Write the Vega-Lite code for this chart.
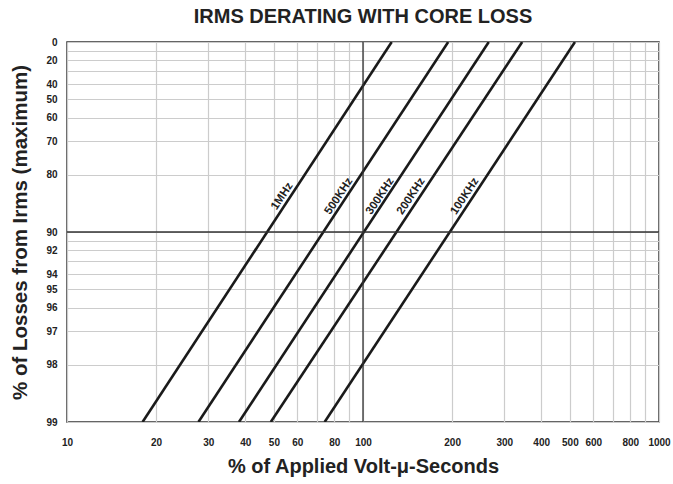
{
  "$schema": "https://vega.github.io/schema/vega-lite/v6.json",
  "width": 592,
  "height": 380,
  "autosize": "none",
  "padding": {"left": 67, "top": 42, "right": 14, "bottom": 62},
  "background": "white",
  "config": {
    "font": "Liberation Sans",
    "view": {"stroke": "#333", "strokeWidth": 1.5}
  },
  "title": {
    "text": "IRMS DERATING WITH CORE LOSS",
    "font": "Liberation Sans",
    "fontSize": 20,
    "fontWeight": "bold",
    "color": "#222",
    "anchor": "middle",
    "offset": 10
  },
  "datasets": {
    "curves": [
      {"f": "1MHz", "x": 18.0, "r": 1},
      {"f": "1MHz", "x": 125, "r": 100},
      {"f": "500KHz", "x": 27.8, "r": 1},
      {"f": "500KHz", "x": 194, "r": 100},
      {"f": "300KHz", "x": 38.1, "r": 1},
      {"f": "300KHz", "x": 266, "r": 100},
      {"f": "200KHz", "x": 48.8, "r": 1},
      {"f": "200KHz", "x": 345, "r": 100},
      {"f": "100KHz", "x": 74.2, "r": 1},
      {"f": "100KHz", "x": 520, "r": 100}
    ],
    "tags": [
      {"f": "1MHz", "x": 53.4, "r": 15.4},
      {"f": "500KHz", "x": 83.0, "r": 15.4},
      {"f": "300KHz", "x": 114.4, "r": 15.4},
      {"f": "200KHz", "x": 145.6, "r": 15.4},
      {"f": "100KHz", "x": 221.1, "r": 15.4}
    ],
    "refx": [{"x": 100}],
    "refy": [{"r": 10}]
  },
  "layer": [
    {
      "data": {"name": "curves"},
      "mark": {"type": "line", "color": "#1a1a1a", "strokeWidth": 2.6, "clip": true},
      "encoding": {
        "x": {
          "field": "x", "type": "quantitative",
          "scale": {"type": "log", "domain": [10, 1000], "nice": false},
          "axis": {
            "title": "% of Applied Volt-μ-Seconds",
            "titleFont": "Liberation Sans",
            "titleFontSize": 20,
            "titleFontWeight": "bold",
            "titleColor": "#222",
            "titlePadding": 9,
            "values": [10, 20, 30, 40, 50, 60, 70, 80, 90, 100, 200, 300, 400, 500, 600, 700, 800, 900, 1000],
            "labelExpr": "indexof([70, 90, 700, 900], datum.value) >= 0 ? '' : format(datum.value, 'd')",
            "labelFont": "Liberation Sans",
            "labelFontSize": 10,
            "labelFontWeight": "bold",
            "labelColor": "#222",
            "labelPadding": 15,
            "labelFlush": false,
            "labelOverlap": false,
            "labelBound": false,
            "ticks": false,
            "domain": false,
            "grid": true,
            "gridColor": "#cccccc",
            "gridWidth": 1.2,
            "gridOpacity": 1
          }
        },
        "y": {
          "field": "r", "type": "quantitative",
          "scale": {"type": "log", "domain": [1, 100], "nice": false},
          "axis": {
            "title": "% of Losses from Irms (maximum)",
            "titleFont": "Liberation Sans",
            "titleFontSize": 20.5,
            "titleFontWeight": "bold",
            "titleColor": "#222",
            "titlePadding": 15,
            "values": [1, 2, 3, 4, 5, 6, 7, 8, 9, 10, 20, 30, 40, 50, 60, 70, 80, 90, 100],
            "labelExpr": "indexof([7, 9, 70, 90], datum.value) >= 0 ? '' : format(100 - datum.value, 'd')",
            "labelFont": "Liberation Sans",
            "labelFontSize": 10,
            "labelFontWeight": "bold",
            "labelColor": "#222",
            "labelPadding": 10,
            "labelFlush": false,
            "labelOverlap": false,
            "labelBound": false,
            "ticks": false,
            "domain": false,
            "grid": true,
            "gridColor": "#cccccc",
            "gridWidth": 1.2,
            "gridOpacity": 1
          }
        },
        "detail": {"field": "f"}
      }
    },
    {
      "data": {"name": "refx"},
      "mark": {"type": "rule", "color": "#333", "strokeWidth": 1.3},
      "encoding": {"x": {"field": "x", "type": "quantitative"}}
    },
    {
      "data": {"name": "refy"},
      "mark": {"type": "rule", "color": "#333", "strokeWidth": 1.3},
      "encoding": {"y": {"field": "r", "type": "quantitative"}}
    },
    {
      "data": {"name": "tags"},
      "mark": {"type": "text", "angle": 303.4, "font": "Liberation Sans", "fontWeight": "bold", "fontSize": 11.5, "color": "#222", "align": "center", "baseline": "middle"},
      "encoding": {
        "x": {"field": "x", "type": "quantitative"},
        "y": {"field": "r", "type": "quantitative"},
        "text": {"field": "f"}
      }
    }
  ]
}
